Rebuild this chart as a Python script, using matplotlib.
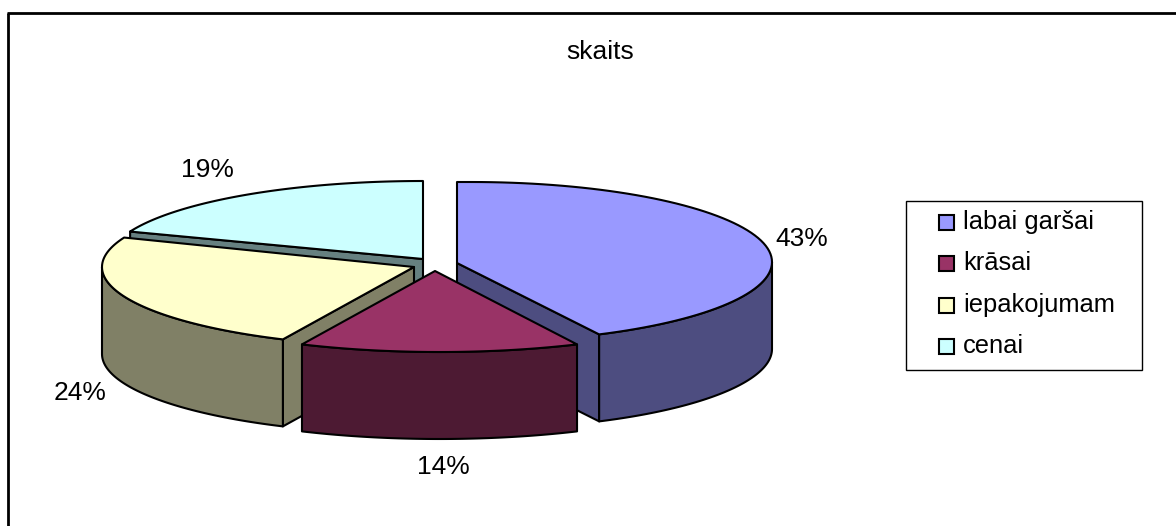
"""3D-look exploded pie: skaits, drawn on a pixel-sized axes."""
import numpy as np
import matplotlib
matplotlib.use("Agg")
import matplotlib.pyplot as plt
from matplotlib.patches import Polygon, Rectangle

categories = ["labai garšai", "krāsai", "iepakojumam", "cenai"]
shares = [43, 14, 24, 19]
title = "skaits"

top_colors = ["#9999FF", "#993366", "#FFFFCC", "#CCFFFF"]
side_colors = ["#4D4D80", "#4D1A33", "#808066", "#668080"]

# ellipse centre x, y, radius x, apex x, apex y (the slices are exploded)
layout = [(471, 262, 301, 457, 263),
          (439.5, 272, 323, 435, 271),
          (417, 267, 315, 414, 267),
          (423, 261, 315, 423, 259)]
RY = 80
DEPTH = 87
label_pos = [(802, 239), (443, 467), (80, 393), (207, 170)]
legend_y = [222, 263, 305, 346]

plt.rcParams["font.family"] = ["Liberation Sans", "DejaVu Sans"]
fig = plt.figure(figsize=(11.76, 5.26), dpi=100)
ax = fig.add_axes([0, 0, 1, 1])
ax.set_xlim(0, 1176)
ax.set_ylim(526, 0)
ax.axis("off")

fractions = np.array(shares) / sum(shares)
ends = np.cumsum(fractions) * 2 * np.pi
starts = ends - fractions * 2 * np.pi


def arc(i, a0, a1, dy=0):
    cx, cy, rx = layout[i][:3]
    t = np.linspace(a0, a1, 80)
    return np.column_stack([cx + rx * np.sin(t), cy - RY * np.cos(t) + dy])


def poly(pts, color, z):
    ax.add_patch(Polygon(pts, closed=True, fc=color, ec="black", lw=1.5, joinstyle="round", zorder=z))


# back to front: cenai, iepakojumam, labai garšai, krāsai
for z, i in enumerate([3, 2, 0, 1]):
    apex = np.array(layout[i][3:])
    down = np.array([0, DEPTH])
    a0, a1 = starts[i], ends[i]
    rim = arc(i, a0, a1)
    # cut faces that look towards the viewer
    if i == 0:
        poly([apex, rim[-1], rim[-1] + down, apex + down], side_colors[i], z * 10)
        poly(np.vstack([arc(i, np.pi / 2, a1), arc(i, a1, np.pi / 2, DEPTH)]), side_colors[i], z * 10 + 1)
    if i == 1:
        poly(np.vstack([rim, rim[::-1] + down]), side_colors[i], z * 10 + 1)
    if i == 2:
        poly([apex, rim[0], rim[0] + down, apex + down], side_colors[i], z * 10)
        poly(np.vstack([arc(i, a0, 1.5 * np.pi), arc(i, 1.5 * np.pi, a0, DEPTH)]), side_colors[i], z * 10 + 1)
    if i == 3:
        poly([apex, rim[0], rim[0] + down, apex + down], side_colors[i], z * 10)
    # top of the slice, straight edges run from the apex to the rim
    if i == 0:
        rim = np.vstack([[apex[0], rim[0][1]], rim])
    poly(np.vstack([apex, rim]), top_colors[i], z * 10 + 2)

for (x, y), v in zip(label_pos, shares):
    ax.text(x, y, f"{v}%", fontsize=19, ha="center", va="center", color="black", zorder=100)

ax.text(600, 52, title, fontsize=19, ha="center", va="center", color="black")

# outer frame
ax.plot([8, 8], [13, 526], color="black", lw=2, solid_capstyle="butt")
ax.plot([7, 1176], [13, 13], color="black", lw=2, solid_capstyle="butt")

# legend
ax.add_patch(Rectangle((906, 201), 236, 169, fc="white", ec="black", lw=1, zorder=50))
for name, color, y in zip(categories, top_colors, legend_y):
    ax.add_patch(Rectangle((939, y - 7.5), 15, 15, fc=color, ec="black", lw=1.5, zorder=51))
    ax.text(963, y, name, fontsize=18.4, ha="left", va="center", color="black", zorder=51)

fig.savefig("out.png", dpi=100)
